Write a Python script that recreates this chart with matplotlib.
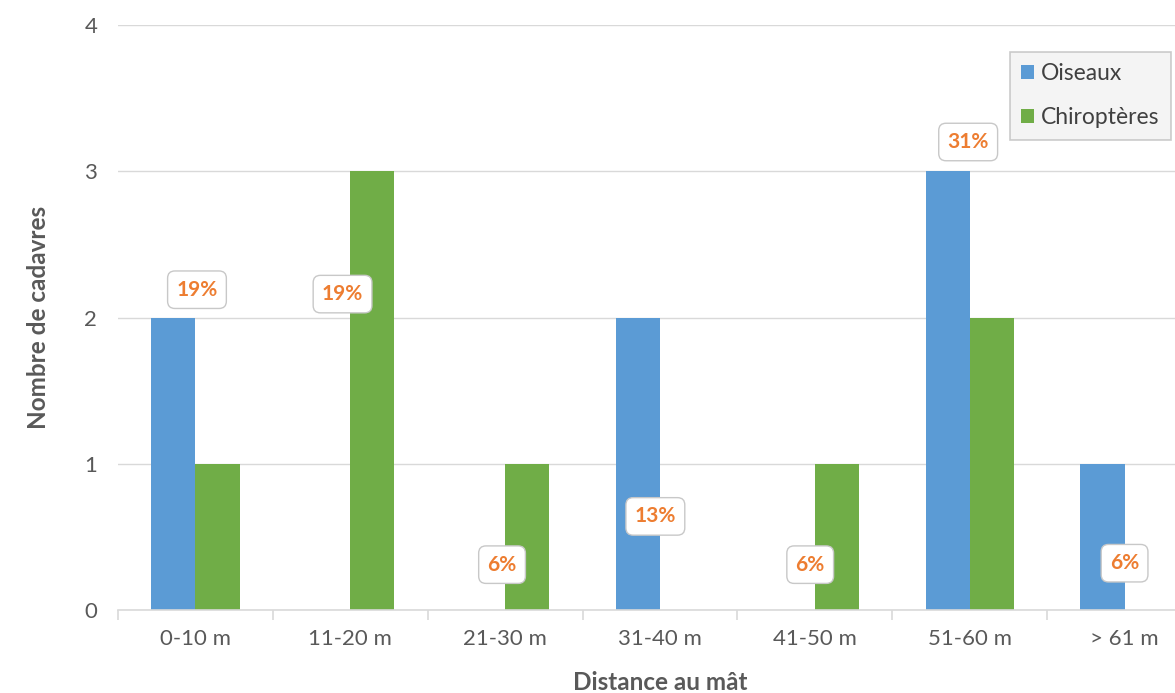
import numpy as np
import matplotlib
matplotlib.use("Agg")
import matplotlib.pyplot as plt

plt.rcParams['font.family'] = ['Lato', 'DejaVu Sans']

# donnees
categories = ["0-10 m", "11-20 m", "21-30 m", "31-40 m", "41-50 m", "51-60 m", "> 61 m"]
oiseaux = [2, 0, 0, 2, 0, 3, 1]
chiropteres = [1, 3, 1, 0, 1, 2, 0]
pourcentages = ["19%", "19%", "6%", "13%", "6%", "31%", "6%"]

# position des etiquettes (decalage x, hauteur y)
etiq_dx = [0.01, -0.05, -0.02, -0.03, -0.03, -0.01, 0.0]
etiq_y = [2.19, 2.16, 0.31, 0.64, 0.31, 3.2, 0.32]

bleu = "#5B9BD5"
vert = "#70AD47"
orange = "#ED7D31"
gris = "#595959"

fig = plt.figure(figsize=(11.75, 6.93), dpi=100)
ax = fig.add_axes([118 / 1175, 1 - 610 / 693, 1084 / 1175, 585 / 693])

x = np.arange(len(categories))
w = 0.285
ax.bar(x - w / 2, oiseaux, w, color=bleu, label="Oiseaux", zorder=3)
ax.bar(x + w / 2, chiropteres, w, color=vert, label="Chiroptères", zorder=3)

for i, txt in enumerate(pourcentages):
    ax.text(x[i] + etiq_dx[i], etiq_y[i], txt, ha="center", va="center",
            color=orange, fontsize=15, fontweight="bold", zorder=5,
            bbox=dict(boxstyle="round,pad=0.42,rounding_size=0.35",
                      fc="white", ec="#C8C8C8", lw=1))

ax.set_xlim(-0.5, len(categories) - 0.5)
ax.set_ylim(0, 4)
ax.set_yticks([0, 1, 2, 3, 4])
ax.yaxis.grid(True, color="#D9D9D9", lw=1, zorder=0)
ax.set_axisbelow(True)

for s in ["top", "right", "left"]:
    ax.spines[s].set_visible(False)
ax.spines["bottom"].set_color("#D9D9D9")
ax.spines["bottom"].set_linewidth(1.2)
ax.spines["bottom"].set_zorder(4)

ax.set_xticks(x)
ax.set_xticklabels(categories, fontsize=16, color=gris)
ax.set_xticks(np.arange(len(categories) + 1) - 0.5, minor=True)
ax.tick_params(axis="x", which="major", length=0, pad=14)
ax.tick_params(axis="x", which="minor", length=7, color="#D9D9D9", width=1.2)
ax.tick_params(axis="y", length=0, pad=15, labelsize=16, labelcolor=gris)

ax.set_xlabel("Distance au mât", fontsize=17.5, fontweight="bold", color=gris)
ax.set_ylabel("Nombre de cadavres", fontsize=17.5, fontweight="bold", color=gris)
ax.xaxis.label.set_verticalalignment("center")
ax.yaxis.label.set_verticalalignment("center")
ax.xaxis.set_label_coords(0.5, (610 - 683) / 585)
ax.yaxis.set_label_coords((39 - 118) / 1084, 0.5)

leg = fig.legend(loc="upper left", bbox_to_anchor=(1010 / 1175, 1 - 52 / 693),
                 fontsize=16.5, frameon=True, fancybox=False,
                 handlelength=0.55, handleheight=0.55, handletextpad=0.3,
                 labelspacing=1.0, borderpad=0.5, borderaxespad=0)
leg.get_frame().set_facecolor("#F2F2F2")
leg.get_frame().set_edgecolor("#BFBFBF")
leg.get_frame().set_linewidth(1.2)
for t in leg.get_texts():
    t.set_color("#404040")

fig.savefig("out.png", dpi=100)
